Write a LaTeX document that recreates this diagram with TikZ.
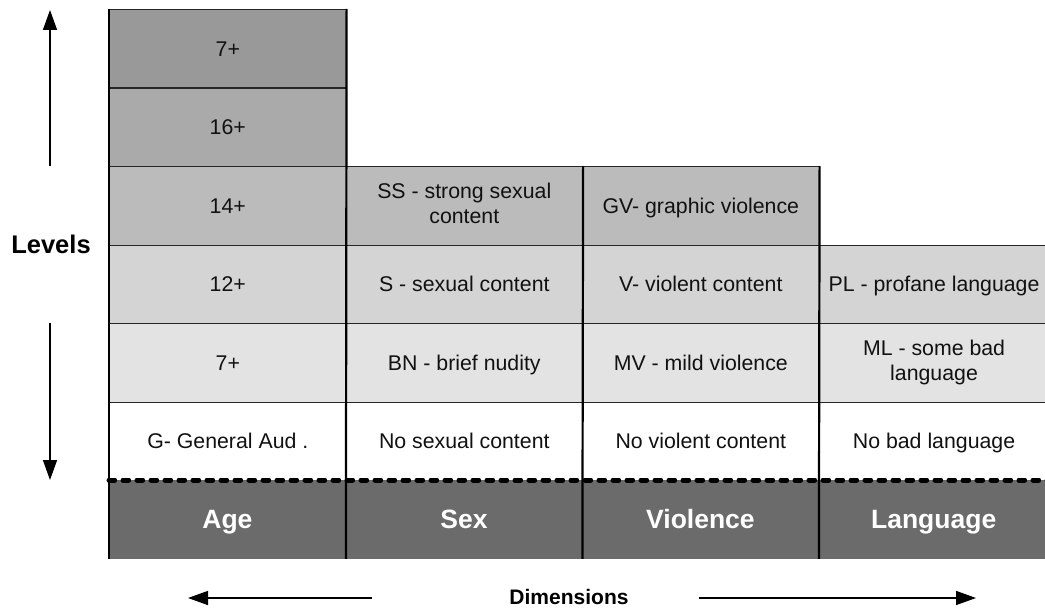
\documentclass[tikz,border=0pt]{standalone}
\usepackage{fontspec}
\setmainfont{Liberation Sans}
\usetikzlibrary{arrows.meta}
\definecolor{lvA}{HTML}{999999}
\definecolor{lvB}{HTML}{AAAAAA}
\definecolor{lvC}{HTML}{BBBBBB}
\definecolor{lvD}{HTML}{D4D4D4}
\definecolor{lvE}{HTML}{E3E3E3}
\definecolor{hdr}{HTML}{6B6B6B}
\definecolor{ink}{HTML}{111111}
% invisible rules that fix the height/depth of the first and last text lines
\newcommand{\toprule}[1]{\rule{0pt}{#1}}
\newcommand{\botrule}[1]{\rule[-#1]{0pt}{#1}}
\tikzset{
  x=1pt, y=1pt,
  cell/.style={rectangle, anchor=north west, minimum width=#1, minimum height=78.5pt,
    inner sep=0pt, align=center, text=ink, draw=black!85, line width=1.1pt,
    font=\fontsize{21.3}{25}\selectfont,
    execute at begin node=\toprule{20.5pt}, execute at end node=\botrule{5.3pt}},
  cell/.default=236.5pt,
  hdrcell/.style={rectangle, anchor=north west, minimum width=#1, minimum height=78.5pt,
    inner sep=0pt, fill=hdr, text=white, font=\fontsize{26.5}{30}\selectfont\bfseries,
    execute at begin node=\toprule{25pt}, execute at end node=\botrule{6pt}},
  hdrcell/.default=236.5pt,
  vline/.style={line width=2.2pt, black},
  sepline/.style={line width=5pt, black, line cap=round, dash pattern=on 5.7pt off 8.3pt},
  axis/.style={line width=1.5pt, -{Triangle[width=14pt,length=20pt]}},
  axislabel/.style={font=\fontsize{21}{25}\selectfont\bfseries, text=black}
}
\begin{document}
\begin{tikzpicture}
\useasboundingbox (0,0) rectangle (1045,-610);

% Age column
\node[cell, fill=lvA] (a1) at (109,-9)     {7+};
\node[cell, fill=lvB] (a2) at (109,-87.5)  {16+};
\node[cell, fill=lvC] (a3) at (109,-166)   {14+};
\node[cell, fill=lvD] (a4) at (109,-244.5) {12+};
\node[cell, fill=lvE] (a5) at (109,-323)   {7+};
\node[cell, fill=white] (a6) at (109,-401.5) {G- General Aud .};

% Sex column
\node[cell, fill=lvC] (s3) at (345.5,-166)   {SS - strong sexual\\content};
\node[cell, fill=lvD] (s4) at (345.5,-244.5) {S - sexual content};
\node[cell, fill=lvE] (s5) at (345.5,-323)   {BN - brief nudity};
\node[cell, fill=white] (s6) at (345.5,-401.5) {No sexual content};

% Violence column
\node[cell, fill=lvC] (v3) at (582,-166)   {GV- graphic violence};
\node[cell, fill=lvD] (v4) at (582,-244.5) {V- violent content};
\node[cell, fill=lvE] (v5) at (582,-323)   {MV - mild violence};
\node[cell, fill=white] (v6) at (582,-401.5) {No violent content};

% Language column
\node[cell=230pt, fill=lvD] (l4) at (818.5,-244.5) {PL - profane language};
\node[cell=230pt, fill=lvE] (l5) at (818.5,-323)   {ML - some bad\\language};
\node[cell=230pt, fill=white] (l6) at (818.5,-401.5) {No bad language};

% Dimension headers
\node[hdrcell] (hAge) at (109,-480)   {Age};
\node[hdrcell] (hSex) at (345.5,-480) {Sex};
\node[hdrcell] (hVio) at (582,-480)   {Violence};
\node[hdrcell=230pt] (hLang) at (818.5,-480) {Language};

% Column separators
\draw[vline] (a1.north west) -- (hAge.south west);
\draw[vline] (a1.north east) -- (hAge.south east);
\draw[vline] (s3.north east) -- (hSex.south east);
\draw[vline] (v3.north east) -- (hVio.south east);

% Baseline between levels and dimensions
\draw[sepline] (hAge.north west) -- (hLang.north east);

% Levels axis
\node[axislabel, font=\fontsize{25.5}{30}\selectfont\bfseries] (levels) at (51,-244) {Levels};
\coordinate (upFrom) at (50,-166);
\coordinate (upTo) at (50,-10);
\coordinate (dnFrom) at (50,-323);
\coordinate (dnTo) at (50,-480);
\draw[axis] (upFrom) -- (upTo);
\draw[axis] (dnFrom) -- (dnTo);

% Dimensions axis
\node[axislabel] (dims) at (569,-597) {Dimensions};
\coordinate (ltFrom) at (372,-598);
\coordinate (ltTo) at (188,-598);
\coordinate (rtFrom) at (699,-598);
\coordinate (rtTo) at (976,-598);
\draw[axis] (ltFrom) -- (ltTo);
\draw[axis] (rtFrom) -- (rtTo);
\end{tikzpicture}
\end{document}
